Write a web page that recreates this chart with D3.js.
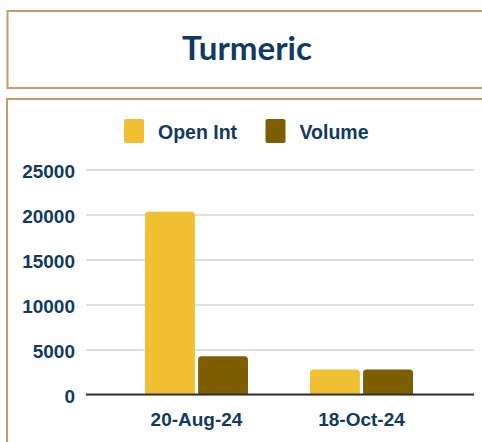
<!DOCTYPE html>
<html>
<head>
<meta charset="utf-8">
<script src="https://cdn.jsdelivr.net/npm/d3@7"></script>
<style>
  html, body { margin: 0; padding: 0; background: #ffffff; }
  svg { display: block; }
</style>
</head>
<body>
<svg id="chart" width="482" height="442"></svg>
<script>
const title = "Turmeric";
const categories = ["20-Aug-24", "18-Oct-24"];
const seriesNames = ["Open Int", "Volume"];
const openInt = [20300, 2780];
const volume = [4250, 2780];
const yTicks = [0, 5000, 10000, 15000, 20000, 25000];
const seriesColors = ["#f0c032", "#7d5e00"];

const navy = "#113a62";
const borderColor = "#c89b66";
const svg = d3.select("#chart");

// Title box
svg.append("rect").attr("x", 7.5).attr("y", 11).attr("width", 490).attr("height", 77)
  .attr("fill", "#fff").attr("stroke", borderColor).attr("stroke-width", 2);
svg.append("text").attr("x", 247).attr("y", 60).attr("text-anchor", "middle")
  .attr("font-family", "Lato, 'DejaVu Sans', sans-serif").attr("font-weight", "bold")
  .attr("font-size", 32).attr("fill", navy)
  .attr("textLength", 130).attr("lengthAdjust", "spacingAndGlyphs")
  .text(title);

// Chart box
svg.append("rect").attr("x", 7).attr("y", 99).attr("width", 490).attr("height", 360)
  .attr("fill", "#fff").attr("stroke", borderColor).attr("stroke-width", 2);

const font = "'Liberation Sans', Arial, sans-serif";

// Scales
const y = d3.scaleLinear().domain([0, 25000]).range([394.5, 169.5]);
const x0 = d3.scaleBand().domain(categories).range([114, 444]).padding(0);
const x1 = d3.scaleBand().domain(seriesNames).range([31, 134]).paddingInner(0.06);

// Gridlines + y labels via axis
const yAxis = d3.axisLeft(y).tickValues(yTicks).tickSize(-(474 - 86)).tickPadding(11).tickFormat(d3.format("d"));
const gy = svg.append("g").attr("transform", "translate(86,0)").call(yAxis);
gy.select(".domain").remove();
gy.selectAll(".tick line").attr("stroke", "#d3d3d3").attr("stroke-width", 1.5);
gy.selectAll(".tick text").attr("fill", navy).attr("font-family", font)
  .attr("font-weight", "bold").attr("font-size", 19).attr("dy", "0.4em");

// Bars
const rows = categories.map((c, i) => ({ cat: c, values: [openInt[i], volume[i]] }));
function topRounded(x, yTop, w, h, r) {
  r = Math.min(r, h, w / 2);
  return `M${x},${yTop + h}V${yTop + r}Q${x},${yTop} ${x + r},${yTop}H${x + w - r}Q${x + w},${yTop} ${x + w},${yTop + r}V${yTop + h}Z`;
}
const groups = svg.append("g").selectAll("g").data(rows).join("g")
  .attr("transform", d => `translate(${x0(d.cat)},0)`);
groups.selectAll("path").data(d => d.values.map((v, k) => ({ name: seriesNames[k], v, k })))
  .join("path")
  .attr("d", d => topRounded(x1(d.name), y(d.v), x1.bandwidth(), y(0) - y(d.v), 3.5))
  .attr("fill", d => seriesColors[d.k]);

// X axis baseline
svg.append("line").attr("x1", 86).attr("x2", 474).attr("y1", y(0)).attr("y2", y(0))
  .attr("stroke", "#333333").attr("stroke-width", 2);

// X labels
const xAxis = d3.axisBottom(x0).tickSize(0).tickPadding(18);
const gx = svg.append("g").attr("transform", `translate(0,${y(0)})`).call(xAxis);
gx.select(".domain").remove();
gx.selectAll(".tick text").attr("fill", navy).attr("font-family", font)
  .attr("font-weight", "bold").attr("font-size", 19);

// Legend
const legendX = [124, 265.5];
const lg = svg.append("g").selectAll("g").data(seriesNames).join("g")
  .attr("transform", (d, i) => `translate(${legendX[i]},119)`);
lg.append("rect").attr("width", 20).attr("height", 24).attr("rx", 2).attr("fill", (d, i) => seriesColors[i]);
lg.append("text").attr("x", 34).attr("y", 20).attr("fill", navy).attr("font-family", font)
  .attr("font-weight", "bold").attr("font-size", 19.5).text(d => d);
</script>
</body>
</html>
